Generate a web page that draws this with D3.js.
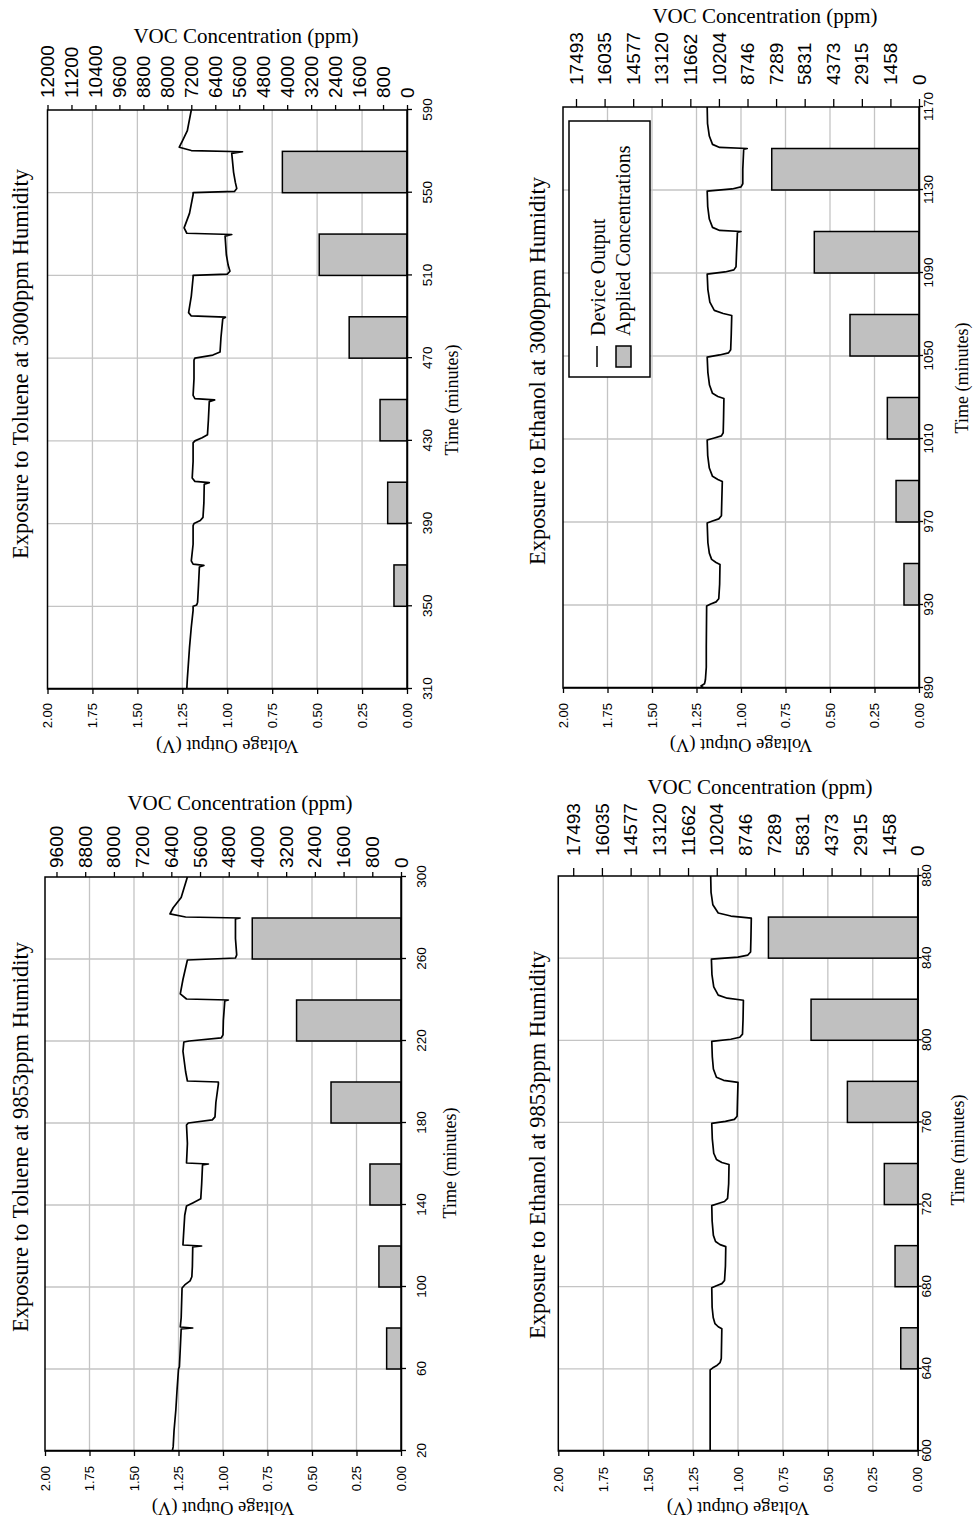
<!DOCTYPE html>
<html><head><meta charset="utf-8">
<script src="https://cdn.jsdelivr.net/npm/d3@7"></script>
<style>
html,body{margin:0;padding:0;background:#fff;}
svg{display:block;}
</style></head>
<body><svg id="chart" width="976" height="1524"></svg>
<script>
// ================= DATA =================
const voltTicks = [0, 0.25, 0.5, 0.75, 1.0, 1.25, 1.5, 1.75, 2.0];
const legendLabels = ["Device Output", "Applied Concentrations"];

// --- Toluene at 3000ppm humidity ---
const tol3000Title = "Exposure to Toluene at 3000ppm Humidity";
const tol3000TimeTicks = [310, 350, 390, 430, 470, 510, 550, 590];
const tol3000VocTicks = [0, 800, 1600, 2400, 3200, 4000, 4800, 5600, 6400, 7200, 8000, 8800, 9600, 10400, 11200, 12000];
const tol3000VocLabels = ["0", "800", "1600", "2400", "3200", "4000", "4800", "5600", "6400", "7200", "8000", "8800", "9600", "10400", "11200", "12000"];
const tol3000BarStart = [350, 390, 430, 470, 510, 550];
const tol3000BarEnd = [370, 410, 450, 490, 530, 570];
const tol3000BarPpm = [435, 645, 900, 1930, 2930, 4160];
const tol3000Time = [310, 315, 320, 330, 340, 348, 350, 350.6, 352, 360, 369, 369.8, 370.4, 372, 380, 389, 390, 391.5, 393, 400, 409, 409.8, 410.4, 412, 420, 429, 430, 431.5, 433, 440, 449, 449.8, 450.4, 452, 460, 469, 470, 471.5, 473, 480, 489, 489.8, 490.4, 492, 500, 509, 510, 510.6, 512, 515, 520, 529, 529.8, 530.4, 533, 540, 549, 550, 550.6, 552, 555, 560, 569, 569.8, 570.4, 572, 575, 580, 590];
const tol3000Volt = [1.225, 1.222, 1.218, 1.21, 1.2, 1.19, 1.19, 1.17, 1.165, 1.16, 1.155, 1.13, 1.19, 1.2, 1.19, 1.19, 1.185, 1.15, 1.135, 1.13, 1.128, 1.1, 1.18, 1.195, 1.19, 1.19, 1.18, 1.14, 1.11, 1.105, 1.1, 1.07, 1.18, 1.19, 1.185, 1.185, 1.18, 1.08, 1.04, 1.035, 1.025, 1.01, 1.2, 1.215, 1.2, 1.19, 1.19, 1.0, 0.985, 0.995, 1.005, 1.012, 0.975, 1.225, 1.24, 1.21, 1.19, 1.19, 0.96, 0.947, 0.955, 0.965, 0.975, 0.915, 1.2, 1.267, 1.25, 1.222, 1.2];

// --- Ethanol at 3000ppm humidity ---
const eth3000Title = "Exposure to Ethanol at 3000ppm Humidity";
const eth3000TimeTicks = [890, 930, 970, 1010, 1050, 1090, 1130, 1170];
const ethVocTicks = [0, 1458, 2915, 4373, 5831, 7289, 8746, 10204, 11662, 13120, 14577, 16035, 17493];
const ethVocLabels = ["0", "1458", "2915", "4373", "5831", "7289", "8746", "10204", "11662", "13120", "14577", "16035", "17493"];
const eth3000BarStart = [930, 970, 1010, 1050, 1090, 1130];
const eth3000BarEnd = [950, 990, 1030, 1070, 1110, 1150];
const eth3000BarPpm = [765, 1170, 1615, 3520, 5340, 7510];
const eth3000Time = [890, 891, 892, 894, 900, 910, 929.5, 930.5, 931.5, 933, 940, 949.5, 950.5, 952, 955, 960, 969.5, 970.5, 971.5, 973, 980, 989.5, 990.5, 992, 996, 1002, 1009.5, 1010.5, 1011.5, 1013, 1020, 1029.5, 1030.5, 1032, 1036, 1042, 1049.5, 1050.5, 1051.5, 1053, 1060, 1069.5, 1070.5, 1072, 1076, 1082, 1089.5, 1090.5, 1091.5, 1093, 1100, 1109.5, 1110, 1110.5, 1112, 1116, 1122, 1129.5, 1130.5, 1131.5, 1133, 1140, 1149.5, 1150, 1150.5, 1152, 1156, 1162, 1170];
const eth3000Volt = [1.21, 1.225, 1.205, 1.2, 1.195, 1.195, 1.193, 1.17, 1.14, 1.125, 1.12, 1.118, 1.14, 1.165, 1.178, 1.186, 1.19, 1.16, 1.125, 1.11, 1.108, 1.105, 1.13, 1.16, 1.178, 1.187, 1.19, 1.15, 1.11, 1.1, 1.098, 1.096, 1.13, 1.16, 1.177, 1.186, 1.19, 1.12, 1.07, 1.058, 1.055, 1.052, 1.1, 1.15, 1.175, 1.186, 1.19, 1.09, 1.04, 1.028, 1.025, 1.02, 1.0, 1.12, 1.16, 1.178, 1.187, 1.19, 1.05, 1.0, 0.99, 0.99, 0.985, 0.965, 1.12, 1.16, 1.178, 1.188, 1.19];

// --- Toluene at 9853ppm humidity ---
const tol9853Title = "Exposure to Toluene at 9853ppm Humidity";
const tol9853TimeTicks = [20, 60, 100, 140, 180, 220, 260, 300];
const tol9853VocTicks = [0, 800, 1600, 2400, 3200, 4000, 4800, 5600, 6400, 7200, 8000, 8800, 9600];
const tol9853VocLabels = ["0", "800", "1600", "2400", "3200", "4000", "4800", "5600", "6400", "7200", "8000", "8800", "9600"];
const tol9853BarStart = [60, 100, 140, 180, 220, 260];
const tol9853BarEnd = [80, 120, 160, 200, 240, 280];
const tol9853BarPpm = [400, 615, 865, 1950, 2910, 4145];
const tol9853Time = [20, 22, 30, 40, 50, 60, 61, 70, 79.5, 80, 80.5, 85, 99.5, 101, 103, 105, 110, 119.5, 120, 120.5, 125, 135, 139.5, 141, 143, 150, 159.5, 160, 160.5, 170, 179, 180, 181.5, 183, 190, 199, 200, 200.5, 205, 215, 219.5, 220, 221.5, 223, 230, 239.5, 240, 240.5, 243, 250, 259.5, 260.5, 262, 270, 279.5, 280, 280.5, 282, 285, 290, 300];
const tol9853Volt = [1.285, 1.28, 1.275, 1.265, 1.258, 1.25, 1.245, 1.24, 1.235, 1.17, 1.24, 1.235, 1.23, 1.215, 1.185, 1.175, 1.172, 1.17, 1.12, 1.225, 1.222, 1.215, 1.205, 1.17, 1.125, 1.12, 1.115, 1.082, 1.205, 1.2, 1.205, 1.195, 1.06, 1.045, 1.04, 1.026, 1.026, 1.2, 1.21, 1.225, 1.22, 1.19, 1.01, 1.0, 0.998, 0.99, 0.97, 1.205, 1.24, 1.225, 1.2, 0.93, 0.923, 0.93, 0.93, 0.904, 1.21, 1.298, 1.28, 1.235, 1.2];

// --- Ethanol at 9853ppm humidity ---
const eth9853Title = "Exposure to Ethanol at 9853ppm Humidity";
const eth9853TimeTicks = [600, 640, 680, 720, 760, 800, 840, 880];
const eth9853BarStart = [640, 680, 720, 760, 800, 840];
const eth9853BarEnd = [660, 700, 740, 780, 820, 860];
const eth9853BarPpm = [860, 1150, 1695, 3570, 5415, 7580];
const eth9853Time = [600, 620, 639.5, 640.5, 641.5, 643, 645, 659.5, 660.5, 662, 665, 670, 679.5, 680.5, 681.5, 683, 690, 699.5, 700.5, 702, 705, 712, 719.5, 720.5, 721.5, 723, 730, 739.5, 740.5, 742, 745, 752, 759.5, 760.5, 761.5, 763, 770, 779.5, 780.5, 782, 786, 792, 799.5, 800.5, 801.5, 803, 810, 819.5, 820.5, 822, 826, 832, 839.5, 840.5, 841.5, 843, 850, 859.5, 860.5, 862, 866, 872, 880];
const eth9853Volt = [1.155, 1.155, 1.155, 1.14, 1.12, 1.1, 1.093, 1.09, 1.11, 1.128, 1.138, 1.144, 1.146, 1.12, 1.09, 1.075, 1.07, 1.068, 1.1, 1.125, 1.137, 1.144, 1.146, 1.11, 1.075, 1.058, 1.052, 1.05, 1.09, 1.12, 1.135, 1.143, 1.146, 1.07, 1.02, 1.005, 1.003, 1.0, 1.08, 1.12, 1.137, 1.143, 1.146, 1.04, 0.99, 0.975, 0.972, 0.97, 1.06, 1.11, 1.135, 1.145, 1.148, 1.0, 0.945, 0.93, 0.928, 0.926, 1.04, 1.11, 1.14, 1.15, 1.152];

// ================= LAYOUT =================
const SERIF = "'Liberation Serif','Times New Roman',serif";
const SANS = "'Liberation Sans',Arial,sans-serif";
const svg = d3.select('#chart');

const panels = [
  { title: tol3000Title, timeTicks: tol3000TimeTicks, vocTicks: tol3000VocTicks, vocLabels: tol3000VocLabels, vocMax: 12000,
    barStart: tol3000BarStart, barEnd: tol3000BarEnd, barPpm: tol3000BarPpm, time: tol3000Time, volt: tol3000Volt,
    L: 47.5, R: 407, T: 110, B: 689, titleX: 20, titleY: 364, timeTitleX: 452, timeTitleY: 400,
    voltTitleY: 746, vocTitleX: 246, vocTitleY: 36, timeTick: 5, timePad: 10, vocTick: 5, vocPad: 7, voltPad: 9, legend: false },
  { title: eth3000Title, timeTicks: eth3000TimeTicks, vocTicks: ethVocTicks, vocLabels: ethVocLabels, vocMax: 18156,
    barStart: eth3000BarStart, barEnd: eth3000BarEnd, barPpm: eth3000BarPpm, time: eth3000Time, volt: eth3000Volt,
    L: 563, R: 919, T: 107, B: 688, titleX: 537, titleY: 371, timeTitleX: 962, timeTitleY: 378,
    voltTitleY: 745, vocTitleX: 765, vocTitleY: 16, timeTick: 4, timePad: 0, vocTick: 8, vocPad: 14, voltPad: 10, legend: true },
  { title: tol9853Title, timeTicks: tol9853TimeTicks, vocTicks: tol9853VocTicks, vocLabels: tol9853VocLabels, vocMax: 9920,
    barStart: tol9853BarStart, barEnd: tol9853BarEnd, barPpm: tol9853BarPpm, time: tol9853Time, volt: tol9853Volt,
    L: 45, R: 401, T: 877, B: 1451, titleX: 20, titleY: 1137, timeTitleX: 450, timeTitleY: 1163,
    voltTitleY: 1508, vocTitleX: 240, vocTitleY: 803, timeTick: 5, timePad: 10, vocTick: 5, vocPad: 4, voltPad: 10, legend: false },
  { title: eth9853Title, timeTicks: eth9853TimeTicks, vocTicks: ethVocTicks, vocLabels: ethVocLabels, vocMax: 18250,
    barStart: eth9853BarStart, barEnd: eth9853BarEnd, barPpm: eth9853BarPpm, time: eth9853Time, volt: eth9853Volt,
    L: 558.3, R: 917.7, T: 876, B: 1451, titleX: 537, titleY: 1145, timeTitleX: 958, timeTitleY: 1150,
    voltTitleY: 1508, vocTitleX: 760, vocTitleY: 787, timeTick: 4, timePad: 0, vocTick: 8, vocPad: 12, voltPad: 11, legend: false }
];

function styleAxis(sel, size) {
  sel.attr('font-family', SANS).attr('font-size', size);
  sel.selectAll('.domain').attr('stroke', '#000').attr('stroke-width', 1.5);
  sel.selectAll('.tick line').attr('stroke', '#000').attr('stroke-width', 1.3);
  sel.selectAll('.tick text').attr('fill', '#000');
}

function drawPanel(p) {
  const W = p.B - p.T, H = p.R - p.L;
  const x = d3.scaleLinear().domain([p.timeTicks[0], p.timeTicks[p.timeTicks.length - 1]]).range([0, W]);
  const yV = d3.scaleLinear().domain([0, 2]).range([H, 0]);
  const yC = d3.scaleLinear().domain([0, p.vocMax]).range([H, 0]);
  const g = svg.append('g').attr('transform', `translate(${p.L},${p.B}) rotate(-90)`);

  // grid
  g.append('g').selectAll('line').data(voltTicks.slice(1, -1)).join('line')
    .attr('x1', 0).attr('x2', W).attr('y1', d => yV(d)).attr('y2', d => yV(d))
    .attr('stroke', '#c4c4c4').attr('stroke-width', 1.3);
  g.append('g').selectAll('line').data(p.timeTicks.slice(1, -1)).join('line')
    .attr('x1', d => x(d)).attr('x2', d => x(d)).attr('y1', 0).attr('y2', H)
    .attr('stroke', '#c4c4c4').attr('stroke-width', 1.3);

  // bars
  g.append('g').selectAll('rect').data(d3.range(p.barStart.length)).join('rect')
    .attr('x', i => x(p.barStart[i])).attr('width', i => x(p.barEnd[i]) - x(p.barStart[i]))
    .attr('y', i => yC(p.barPpm[i])).attr('height', i => H - yC(p.barPpm[i]))
    .attr('fill', '#c0c0c0').attr('stroke', '#000').attr('stroke-width', 1.5);

  // device output line
  const pts = p.time.map((t, i) => [t, p.volt[i]]);
  g.append('path').datum(pts)
    .attr('d', d3.line().x(d => x(d[0])).y(d => yV(d[1])))
    .attr('fill', 'none').attr('stroke', '#000').attr('stroke-width', 1.7).attr('stroke-linejoin', 'round');

  // frame
  g.append('rect').attr('width', W).attr('height', H).attr('fill', 'none')
    .attr('stroke', '#000').attr('stroke-width', 1.5);

  // axes
  const a1 = g.append('g').call(d3.axisLeft(yV).tickValues(voltTicks).tickFormat(d3.format('.2f'))
    .tickSize(5).tickSizeOuter(0).tickPadding(p.voltPad));
  styleAxis(a1, 13);
  const a2 = g.append('g').attr('transform', `translate(0,${H})`)
    .call(d3.axisBottom(x).tickValues(p.timeTicks).tickFormat(d3.format('d'))
      .tickSize(p.timeTick).tickSizeOuter(0).tickPadding(p.timePad));
  styleAxis(a2, 13.5);
  const a3 = g.append('g').attr('transform', `translate(${W},0)`)
    .call(d3.axisRight(yC).tickValues(p.vocTicks).tickFormat((d, i) => p.vocLabels[i])
      .tickSize(p.vocTick).tickSizeOuter(0).tickPadding(p.vocPad));
  styleAxis(a3, 19);
  a3.select('.domain').remove();

  // legend
  if (p.legend) {
    const lg = g.append('g').attr('transform', `translate(${W - 270},6)`);
    lg.append('rect').attr('width', 256).attr('height', 81).attr('fill', '#fff')
      .attr('stroke', '#000').attr('stroke-width', 1.5);
    lg.append('line').attr('x1', 10).attr('x2', 31).attr('y1', 28).attr('y2', 28)
      .attr('stroke', '#000').attr('stroke-width', 1.5);
    lg.append('rect').attr('x', 10).attr('y', 47).attr('width', 21).attr('height', 15)
      .attr('fill', '#c0c0c0').attr('stroke', '#000').attr('stroke-width', 1.5);
    lg.selectAll('text').data(legendLabels).join('text')
      .attr('x', 41).attr('y', (d, i) => 29 + i * 25).attr('dominant-baseline', 'central')
      .attr('font-family', SERIF).attr('font-size', 20).text(d => d);
  }

  // titles (screen coordinates)
  svg.append('text').attr('transform', `translate(${p.titleX},${p.titleY}) rotate(-90)`)
    .attr('text-anchor', 'middle').attr('dominant-baseline', 'central')
    .attr('font-family', SERIF).attr('font-size', 22.5).text(p.title);
  svg.append('text').attr('transform', `translate(${p.timeTitleX},${p.timeTitleY}) rotate(-90)`)
    .attr('text-anchor', 'middle').attr('dominant-baseline', 'central')
    .attr('font-family', SERIF).attr('font-size', 18).text('Time (minutes)');
  svg.append('text').attr('transform', `translate(${p.vocTitleX},${p.vocTitleY})`)
    .attr('text-anchor', 'middle').attr('dominant-baseline', 'central')
    .attr('font-family', SERIF).attr('font-size', 21).text('VOC Concentration (ppm)');
  svg.append('text').attr('transform', `translate(${(p.L + p.R) / 2},${p.voltTitleY}) rotate(180)`)
    .attr('text-anchor', 'middle').attr('dominant-baseline', 'central')
    .attr('font-family', SERIF).attr('font-size', 18.5).text('Voltage Output (V)');
}

panels.forEach(drawPanel);
</script>
</body></html>
